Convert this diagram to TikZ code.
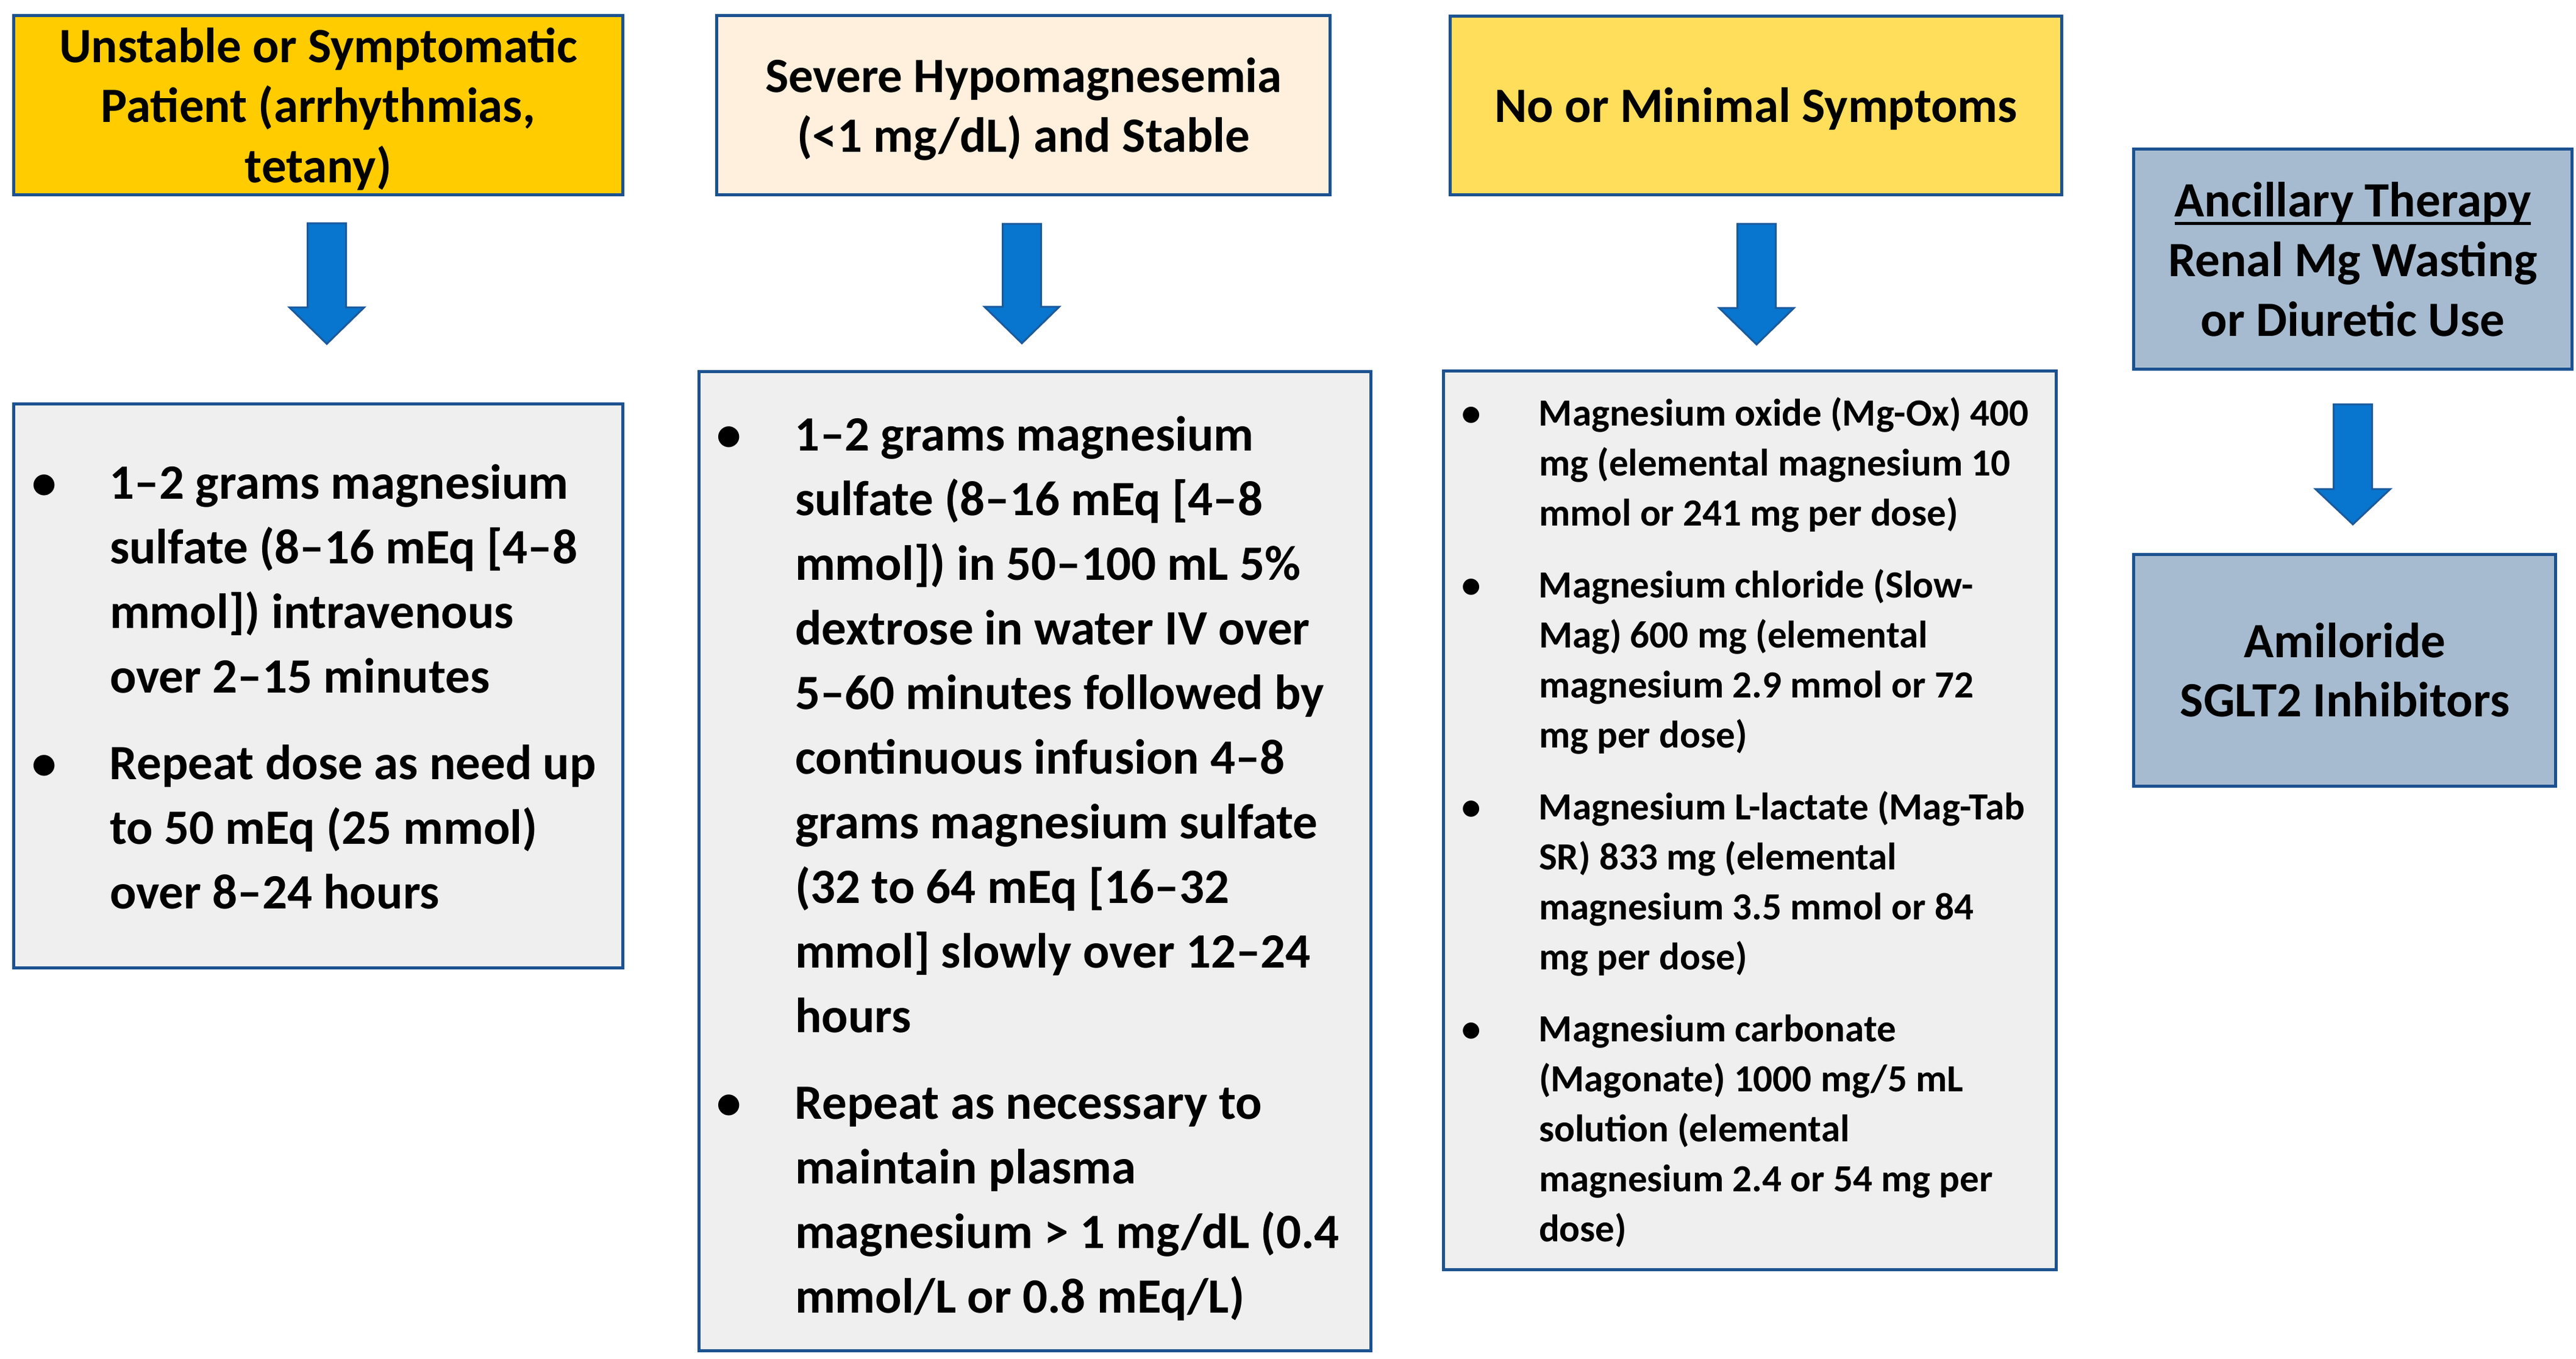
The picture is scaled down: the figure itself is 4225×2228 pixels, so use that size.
\documentclass[tikz,border=0pt]{standalone}
\usepackage{fontspec}
\setmainfont{Carlito}
\definecolor{bordblue}{HTML}{1C5290}
\definecolor{gold}{HTML}{FFCC00}
\definecolor{peach}{HTML}{FFF0DE}
\definecolor{yel}{HTML}{FFDE5C}
\definecolor{slate}{HTML}{A7BBD0}
\definecolor{lgray}{HTML}{EFEFEF}
\definecolor{arrfill}{HTML}{0875CE}
\definecolor{arrline}{HTML}{1B5A9C}
\newcommand\bul[1]{\makebox[#1][l]{\makebox[0pt]{•}}}
\newcommand\ulin[1]{\setbox0\hbox{#1}\rlap{\rule[-13.5pt]{\wd0}{5pt}}\box0}
\newcommand\blockarrow[4]{% cx, ytop, yhead, ytip
  \draw[blockarrow] (#1-31.5,#2) -- (#1+31.5,#2) -- (#1+31.5,#3) -- (#1+61.5,#3)
    -- (#1,#4) -- (#1-61.5,#3) -- (#1-31.5,#3) -- cycle;}
\tikzset{
  panel/.style={draw=bordblue, line width=5pt, inner sep=0pt, outer sep=0pt, rectangle},
  hdrtext/.style={anchor=base, inner sep=0pt, outer sep=0pt, font=\bfseries\fontsize{81}{98.5}\selectfont},
  bodytext/.style={anchor=base west, inner sep=0pt, outer sep=0pt, font=\bfseries\fontsize{81}{106}\selectfont},
  smalltext/.style={anchor=base west, inner sep=0pt, outer sep=0pt, font=\bfseries\fontsize{63}{82}\selectfont},
  blockarrow/.style={fill=arrfill, draw=arrline, line width=3pt, line join=miter}
}
\begin{document}
\begin{tikzpicture}[x=1pt,y=-1pt]
\useasboundingbox[fill=white] (0,0) rectangle (4225,2228);

% panels
\node[panel, fill=gold,  minimum width=999pt,  minimum height=294pt]  (b1) at (522,172.5) {};
\node[panel, fill=peach, minimum width=1006pt, minimum height=294pt]  (b3) at (1678.5,172.5) {};
\node[panel, fill=yel,   minimum width=1003pt, minimum height=293pt]  (b5) at (2880,173) {};
\node[panel, fill=lgray, minimum width=999pt,  minimum height=925pt]  (b2) at (522,1125) {};
\node[panel, fill=lgray, minimum width=1102pt, minimum height=1606pt] (b4) at (1697.5,1412) {};
\node[panel, fill=lgray, minimum width=1005pt, minimum height=1474pt] (b6) at (2870,1345.5) {};
\node[panel, fill=slate, minimum width=719pt,  minimum height=361pt]  (b7) at (3859,425) {};
\node[panel, fill=slate, minimum width=692pt,  minimum height=380pt]  (b8) at (3845.5,1099.5) {};

% block arrows
\blockarrow{536}{366}{504}{564}
\blockarrow{1676}{367}{503}{563}
\blockarrow{2881}{367}{505}{565}
\blockarrow{3859}{663}{802}{860}

% header texts
\node[hdrtext] (t1) at (522,102) {\begin{tabular}[t]{@{}c@{}}Unstable or Symptomatic\\ Patient (arrhythmias,\\ tetany)\end{tabular}};
\node[hdrtext] (t3) at (1679,151) {\begin{tabular}[t]{@{}c@{}}Severe Hypomagnesemia\\ (<1 mg/dL) and Stable\end{tabular}};
\node[hdrtext] (t5) at (2880,200.5) {No or Minimal Symptoms};
\node[hdrtext, font=\bfseries\fontsize{81}{98}\selectfont] (t7) at (3859,355) {\begin{tabular}[t]{@{}c@{}}\ulin{Ancillary Therapy}\\ Renal Mg Wasting\\ or Diuretic Use\end{tabular}};
\node[hdrtext, font=\bfseries\fontsize{81}{97}\selectfont] (t8) at (3846,1078) {\begin{tabular}[t]{@{}c@{}}Amiloride\\ SGLT2 Inhibitors\end{tabular}};

% body texts
\node[bodytext] (t2) at (73,818) {\begin{tabular}[t]{@{}l@{}l@{}}
\bul{107pt} & 1–2 grams magnesium\\
 & sulfate (8–16 mEq [4–8\\
 & mmol]) intravenous\\
 & over 2–15 minutes\\[36pt]
\bul{107pt} & Repeat dose as need up\\
 & to 50 mEq (25 mmol)\\
 & over 8–24 hours
\end{tabular}};

\node[bodytext] (t4) at (1196,739) {\begin{tabular}[t]{@{}l@{}l@{}}
\bul{108pt} & 1–2 grams magnesium\\
 & sulfate (8–16 mEq [4–8\\
 & mmol]) in 50–100 mL 5\%\\
 & dextrose in water IV over\\
 & 5–60 minutes followed by\\
 & continuous infusion 4–8\\
 & grams magnesium sulfate\\
 & (32 to 64 mEq [16–32\\
 & mmol] slowly over 12–24\\
 & hours\\[36pt]
\bul{108pt} & Repeat as necessary to\\
 & maintain plasma\\
 & magnesium > 1 mg/dL (0.4\\
 & mmol/L or 0.8 mEq/L)
\end{tabular}};

\node[smalltext] (t6) at (2413,698) {\begin{tabular}[t]{@{}l@{}l@{}}
\bul{111pt} & Magnesium oxide (Mg-Ox) 400\\
 & mg (elemental magnesium 10\\
 & mmol or 241 mg per dose)\\[36pt]
\bul{111pt} & Magnesium chloride (Slow-\\
 & Mag) 600 mg (elemental\\
 & magnesium 2.9 mmol or 72\\
 & mg per dose)\\[36pt]
\bul{111pt} & Magnesium L-lactate (Mag-Tab\\
 & SR) 833 mg (elemental\\
 & magnesium 3.5 mmol or 84\\
 & mg per dose)\\[36pt]
\bul{111pt} & Magnesium carbonate\\
 & (Magonate) 1000 mg/5 mL\\
 & solution (elemental\\
 & magnesium 2.4 or 54 mg per\\
 & dose)
\end{tabular}};
\end{tikzpicture}
\end{document}
